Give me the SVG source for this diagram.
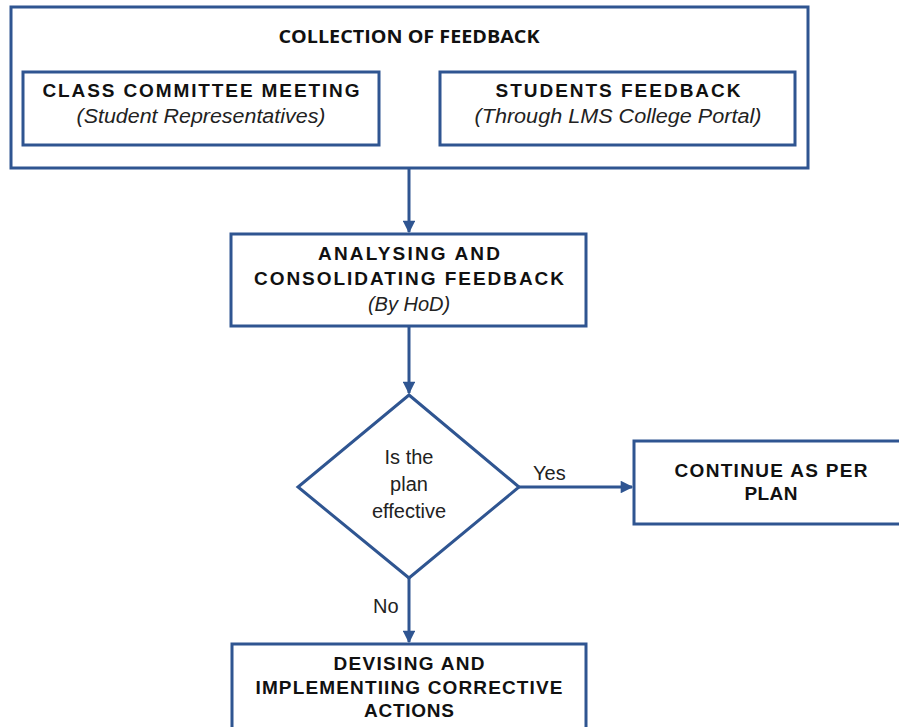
<svg xmlns="http://www.w3.org/2000/svg" width="899" height="727" viewBox="0 0 899 727">
  <style>
    .box { fill: #ffffff; stroke: #2f5591; stroke-width: 3; }
    .wire { fill: none; stroke: #2f5591; stroke-width: 3; }
    .bold { font-family: "Liberation Sans", Arial, sans-serif; font-weight: bold; font-size: 19px; fill: #111111; text-anchor: middle; }
    .head { font-family: "Open Sans", "Liberation Sans", sans-serif; font-weight: bold; font-size: 18px; fill: #111111; text-anchor: middle; }
    .ital { font-family: "Liberation Sans", Arial, sans-serif; font-style: italic; font-size: 20px; fill: #222222; text-anchor: middle; }
    .plain { font-family: "Liberation Sans", Arial, sans-serif; font-size: 20px; fill: #222222; text-anchor: middle; }
    .lbl { font-family: "Liberation Sans", Arial, sans-serif; font-size: 20px; fill: #222222; }
  </style>
  <defs>
    <marker id="arrow" viewBox="0 0 10 10" refX="9" refY="5" markerWidth="4.4" markerHeight="4.2" orient="auto" markerUnits="strokeWidth">
      <path d="M0,0 L10,5 L0,10 Z" fill="#2f5591"/>
    </marker>
  </defs>

  <!-- Collection of feedback container -->
  <g id="collection">
    <rect class="box" x="11" y="7" width="797" height="161"/>
    <text class="head" x="409" y="43" textLength="261" lengthAdjust="spacingAndGlyphs">COLLECTION OF FEEDBACK</text>
  </g>
  <g id="class-committee">
    <rect class="box" x="23" y="72" width="356" height="73"/>
    <text class="bold" x="201" y="97" textLength="317" lengthAdjust="spacing">CLASS COMMITTEE MEETING</text>
    <text class="ital" x="201" y="123" textLength="249" lengthAdjust="spacingAndGlyphs">(Student Representatives)</text>
  </g>
  <g id="students-feedback">
    <rect class="box" x="440" y="72" width="355" height="73"/>
    <text class="bold" x="618" y="97" textLength="245" lengthAdjust="spacing">STUDENTS FEEDBACK</text>
    <text class="ital" x="618" y="123" textLength="287" lengthAdjust="spacingAndGlyphs">(Through LMS College Portal)</text>
  </g>

  <!-- Analysis step -->
  <g id="analysing">
    <rect class="box" x="231" y="234" width="355" height="92"/>
    <text class="bold" x="409" y="260" textLength="182" lengthAdjust="spacing">ANALYSING AND</text>
    <text class="bold" x="409" y="285" textLength="310" lengthAdjust="spacing">CONSOLIDATING FEEDBACK</text>
    <text class="ital" x="409" y="311">(By HoD)</text>
  </g>

  <!-- Decision -->
  <g id="decision">
    <polygon class="box" points="409,395 519,487 409,578 298,487"/>
    <text class="plain" x="409" y="464">Is the</text>
    <text class="plain" x="409" y="491">plan</text>
    <text class="plain" x="409" y="518">effective</text>
  </g>

  <g id="continue">
    <rect class="box" x="634" y="441" width="280" height="83"/>
    <text class="bold" x="771" y="477" textLength="193" lengthAdjust="spacing">CONTINUE AS PER</text>
    <text class="bold" x="771" y="500" textLength="53" lengthAdjust="spacing">PLAN</text>
  </g>

  <g id="corrective">
    <rect class="box" x="232" y="644" width="354" height="100"/>
    <text class="bold" x="409" y="670" textLength="151" lengthAdjust="spacing">DEVISING AND</text>
    <text class="bold" x="409" y="694" textLength="307" lengthAdjust="spacing">IMPLEMENTIING CORRECTIVE</text>
    <text class="bold" x="409" y="717" textLength="90" lengthAdjust="spacing">ACTIONS</text>
  </g>

  <!-- Connectors -->
  <g id="connectors">
    <line class="wire" x1="409" y1="168" x2="409" y2="232" marker-end="url(#arrow)"/>
    <line class="wire" x1="409" y1="326" x2="409" y2="393" marker-end="url(#arrow)"/>
    <line class="wire" x1="519" y1="487" x2="632" y2="487" marker-end="url(#arrow)"/>
    <line class="wire" x1="409" y1="578" x2="409" y2="642" marker-end="url(#arrow)"/>
    <text class="lbl" x="533" y="480">Yes</text>
    <text class="lbl" x="373" y="613">No</text>
  </g>
</svg>
